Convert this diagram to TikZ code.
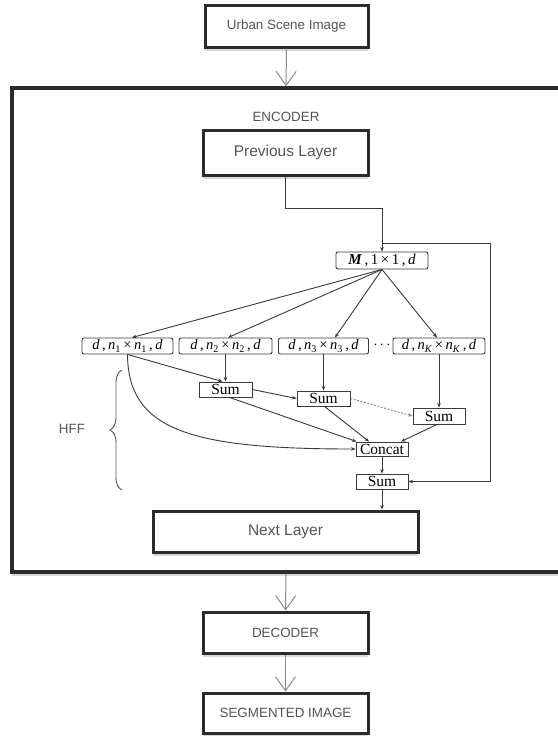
\documentclass[tikz,border=0pt]{standalone}
\usepackage{fontspec}
\setmainfont{Liberation Serif}
\setsansfont{Liberation Sans}
\usetikzlibrary{arrows.meta,shadows,decorations.pathreplacing,calc}

\definecolor{boxline}{HTML}{2B2B2B}
\definecolor{textgray}{HTML}{555555}
\definecolor{inline}{HTML}{3A3A3A}
\definecolor{arrowgray}{HTML}{8A8A8A}

% kernel label "d, n x n, d" set in Times-like italics
\newcommand{\kdims}[1]{\textit{d}\,,\,\textit{n}\textsubscript{#1}\,×\,\textit{n}\textsubscript{#1}\,,\,\textit{d}}

\begin{document}
\begin{tikzpicture}[x=1pt,y=-1pt,
  bigbox/.style={draw=boxline, line width=3pt, fill=white, inner sep=0pt,
    font=\sffamily\fontsize{13.4}{15}\selectfont, text=textgray,
    drop shadow={shadow xshift=0pt, shadow yshift=-4pt, opacity=0.15, fill=black}},
  bigtext/.style={font=\sffamily\fontsize{15.5}{17}\selectfont},
  plain/.style={font=\sffamily\fontsize{13.4}{15}\selectfont, text=textgray, inner sep=0pt},
  lbox/.style={draw=inline, line width=0.9pt, rounded corners=2pt, fill=white,
    inner sep=0pt, minimum height=16pt, font=\fontsize{14.5}{16}\selectfont},
  sbox/.style={draw=inline, line width=0.9pt, fill=white, inner sep=0pt,
    minimum height=15pt, minimum width=53pt, font=\fontsize{15.5}{16}\selectfont},
  link/.style={draw=inline, line width=0.9pt, -{Stealth[length=4.5pt,width=3.6pt]}},
  varrow/.style={draw=arrowgray, line width=1pt,
    -{Straight Barb[length=14pt,width=20pt,line width=1pt]}}
]
\useasboundingbox (0,0) rectangle (557,736);

% encoder frame
\node[bigbox, line width=3.5pt, minimum width=548pt, minimum height=484pt] (outer) at (286,330) {};

% input and output blocks
\node[bigbox, minimum width=163pt, minimum height=42pt] (urban) at (286.5,26) {Urban Scene Image};
\node[bigbox, minimum width=165pt, minimum height=41pt] (dec) at (285.5,632.5) {DECODER};
\node[bigbox, minimum width=165pt, minimum height=40pt] (seg) at (285.5,713) {SEGMENTED IMAGE};

\node[plain] (enc) at (286,117) {ENCODER};
\node[bigbox, bigtext, minimum width=165pt, minimum height=45pt] (prev) at (285.5,152.5) {Previous Layer};
\node[bigbox, bigtext, minimum width=265pt, minimum height=41pt] (next) at (285.5,531.5) {Next Layer};

% HFF block
\node[lbox, minimum width=92pt, minimum height=17pt, font=\fontsize{15}{16}\selectfont] (M) at (382,260.5)
  {\textbf{\textit{M}}\,,\,1\,×\,1\,,\,\textit{d}};
\node[lbox, minimum width=91pt] (b1) at (127.5,346) {\kdims{1}};
\node[lbox, minimum width=93pt] (b2) at (225.5,346) {\kdims{2}};
\node[lbox, minimum width=90pt] (b3) at (323.5,346) {\kdims{3}};
\node[lbox, minimum width=92pt] (bK) at (439,346) {\kdims{\textit{K}}};
\node[inner sep=0pt, font=\fontsize{14}{16}\selectfont] (dots) at (382,345) {$\cdots$};

\node[sbox] (s1) at (225.5,389.5) {Sum};
\node[sbox] (s2) at (323.5,398.5) {Sum};
\node[sbox, minimum width=52pt, minimum height=16pt] (sK) at (439,416) {Sum};
\node[sbox, minimum width=52pt, minimum height=14pt] (cc) at (382,449) {Concat};
\node[sbox, minimum width=52pt] (fs) at (382,481.5) {Sum};

\node[plain] (hff) at (72,429) {HFF};
\draw[draw=textgray, line width=0.9pt, decorate, decoration={brace, amplitude=12pt}]
  (122,490) -- (122,370);

% main flow
\draw[varrow] (urban.south) -- (outer.north);
\draw[varrow] (outer.south) -- (dec.north);
\draw[varrow] (dec.south) -- (seg.north);

\coordinate (split) at (382,243);
\draw[link] (prev.south) -- ++(0,32) -| (M.north);
\draw[link] (split) -- ++(108,0) |- (fs.east);

\draw[link] (M.south) -- ($(b1.north)+(4.5,0)$);
\draw[link] (M.south) -- ($(b2.north)+(2.5,0)$);
\draw[link] (M.south) -- ($(b3.north)+(11.5,0)$);
\draw[link] (M.south) -- ($(bK.north)+(-2,0)$);

\draw[link] (b1.south) -- ($(s1.north)+(-3,0)$);
\draw[link] (b2.south) -- (s1.north);
\draw[link] (b3.south) -- (s2.north);
\draw[link] (bK.south) -- (sK.north);

\draw[link] (s1.east) -- (s2.west);
\draw[link, draw=arrowgray, dash pattern=on 2pt off 1.5pt] (s2.east) -- (sK.west);

\draw[link] (b1.south) .. controls (128,430) and (190,449) .. (cc.west);
\draw[link] ($(s1.south)+(4,0)$) -- ($(cc.north west)+(1,0)$);
\draw[link] ($(s2.south)+(1,0)$) -- ($(cc.north)+(-13,0)$);
\draw[link] ($(sK.south)+(-2,0)$) -- ($(cc.north)+(19,0)$);

\draw[link] (cc.south) -- (fs.north);
\draw[link] (fs.south) -- (next.north -| fs.south);
\end{tikzpicture}
\end{document}
